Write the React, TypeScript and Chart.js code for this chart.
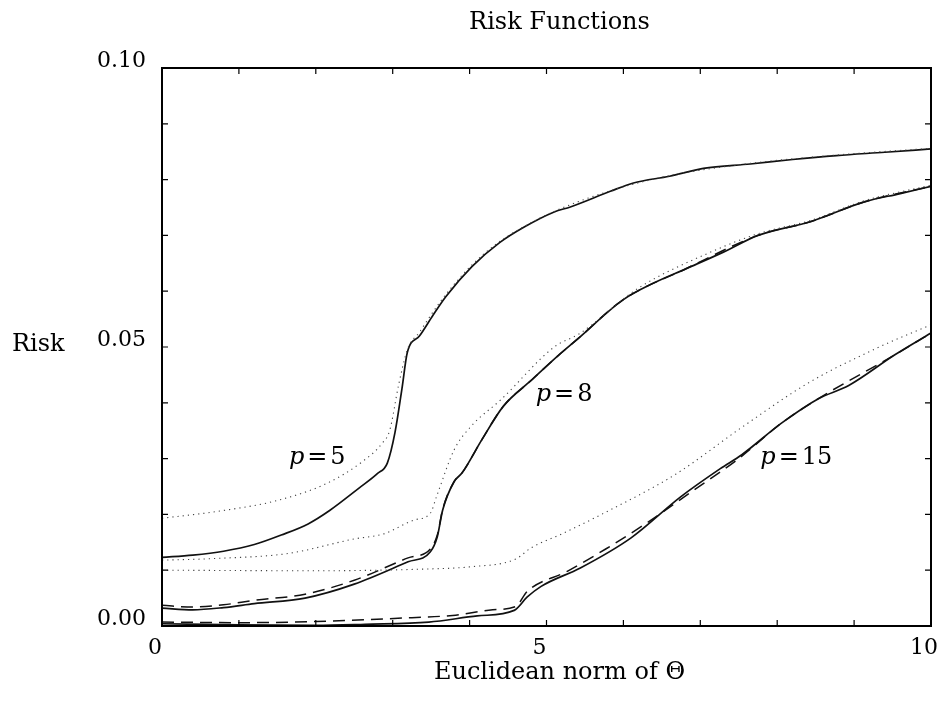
import React, { useEffect, useRef } from 'react';
import { Chart, registerables } from 'chart.js';

Chart.register(...registerables);

const FONT = '"DejaVu Serif", "Liberation Serif", serif';

// ---- data ----
const p5SolidX = [0, 0.4, 0.8, 1.2, 1.55, 1.9, 2.18, 2.57, 2.8, 2.93, 3.03, 3.12, 3.19, 3.35, 3.52, 3.69, 4.03, 4.39, 4.71, 5.1, 5.31, 5.83, 6.13, 6.6, 7.04, 7.65, 8.2, 8.77, 9.4, 10];
const p5SolidY = [0.0123, 0.0127, 0.0134, 0.0146, 0.0163, 0.0183, 0.0207, 0.0248, 0.0273, 0.0292, 0.0347, 0.0425, 0.049, 0.052, 0.0556, 0.059, 0.0644, 0.0687, 0.0715, 0.0742, 0.0751, 0.0779, 0.0794, 0.0806, 0.082, 0.0828, 0.0836, 0.0843, 0.0849, 0.0855];

const p5DottedX = [0, 0.75, 1.5, 2.15, 2.6, 2.86, 2.96, 3.08, 3.19, 3.35, 3.52, 3.69, 4.03, 4.39, 4.71, 5.1, 5.83, 6.6, 7.65, 8.77, 10];
const p5DottedY = [0.0193, 0.0206, 0.0225, 0.0256, 0.0294, 0.0327, 0.035, 0.0434, 0.0495, 0.0527, 0.0562, 0.0594, 0.0647, 0.0689, 0.0716, 0.0743, 0.078, 0.0807, 0.0829, 0.0844, 0.0856];

const p8SolidX = [0, 0.4, 0.8, 1.2, 1.86, 2.5, 3.2, 3.49, 3.58, 3.65, 3.8, 3.9, 4.16, 4.44, 4.8, 5.18, 5.41, 5.99, 6.4, 6.81, 7.3, 7.75, 8.44, 9.13, 9.6, 10];
const p8SolidY = [0.0032, 0.0029, 0.0033, 0.004, 0.005, 0.0075, 0.0115, 0.0133, 0.016, 0.0208, 0.0259, 0.0274, 0.0334, 0.0394, 0.044, 0.0488, 0.0515, 0.0584, 0.0615, 0.064, 0.067, 0.07, 0.0725, 0.076, 0.0775, 0.0788];

const p8DottedX = [0, 0.7, 1.64, 2.5, 2.88, 3.28, 3.49, 3.57, 3.8, 4.02, 4.41, 5.1, 5.43, 6.2, 7.1, 7.75, 8.44, 9.13, 10];
const p8DottedY = [0.0118, 0.0121, 0.013, 0.0156, 0.0165, 0.019, 0.0202, 0.0232, 0.0316, 0.0358, 0.0406, 0.05, 0.0524, 0.0606, 0.0668, 0.0703, 0.0727, 0.0762, 0.079];

const p8DashedX = [0, 0.4, 0.8, 1.2, 1.86, 2.5, 3.2, 3.49, 3.58, 3.65, 3.8, 3.9, 4.16, 4.44, 4.8, 5.18, 5.41, 5.99, 6.81, 7.75, 8.44, 9.13, 10];
const p8DashedY = [0.0037, 0.0034, 0.0038, 0.0046, 0.0057, 0.0082, 0.0122, 0.0138, 0.0163, 0.0209, 0.0259, 0.0274, 0.0334, 0.0394, 0.044, 0.0488, 0.0515, 0.0584, 0.064, 0.07, 0.0725, 0.076, 0.0788];

const p15SolidX = [0, 1, 2, 2.64, 3.47, 4.1, 4.58, 4.75, 4.93, 5.44, 6.1, 6.74, 7.26, 7.54, 8.06, 8.53, 8.93, 9.53, 10];
const p15SolidY = [0.0004, 0.0002, 0.0001, 0.0003, 0.0007, 0.0018, 0.0028, 0.0052, 0.0071, 0.0104, 0.0158, 0.0231, 0.0282, 0.0307, 0.0364, 0.0407, 0.0431, 0.0486, 0.0525];

const p15DottedX = [0, 2, 3.4, 4.0, 4.6, 4.8, 5.2, 5.8, 6.68, 7.55, 8.41, 9.28, 10];
const p15DottedY = [0.01, 0.0099, 0.0102, 0.0106, 0.012, 0.014, 0.0165, 0.0206, 0.0272, 0.0357, 0.0436, 0.0497, 0.054];

const p15DashedX = [0, 1, 2, 3.25, 3.78, 4.3, 4.6, 4.75, 5.27, 5.77, 6.34, 6.86, 7.5, 8.06, 8.53, 9.53, 10];
const p15DashedY = [0.0007, 0.0006, 0.0008, 0.0015, 0.0019, 0.0029, 0.0035, 0.0062, 0.0098, 0.0138, 0.0188, 0.0238, 0.03, 0.0364, 0.0407, 0.0486, 0.0525];

const xLabelTicks = [0, 5, 10];
const yLabelTicks = [0, 0.05, 0.1];
const xMinorTicks = [1, 2, 3, 4, 5, 6, 7, 8, 9];
const yMinorTicks = [0.01, 0.02, 0.03, 0.04, 0.05, 0.06, 0.07, 0.08, 0.09];

const chartTitle = 'Risk Functions';
const xTitle = 'Euclidean norm of Θ';
const yTitle = 'Risk';

const curveLabels = [
  { n: '5', x: 1.65, y: 0.0301 },
  { n: '8', x: 4.86, y: 0.0414 },
  { n: '15', x: 7.78, y: 0.0301 },
];

const pts = (xs: number[], ys: number[]) => xs.map((x, i) => ({ x, y: ys[i] }));

const framePlugin = {
  id: 'frameAndLabels',
  afterDatasetsDraw(chart: any) {
    const { ctx, chartArea: a, scales } = chart;
    const xs = scales.x;
    const ys = scales.y;
    ctx.save();
    ctx.strokeStyle = '#000';
    ctx.lineWidth = 2;
    ctx.strokeRect(a.left, a.top, a.right - a.left, a.bottom - a.top);
    ctx.lineWidth = 1.2;
    ctx.beginPath();
    const tl = 6;
    for (const v of xMinorTicks) {
      const px = xs.getPixelForValue(v);
      ctx.moveTo(px, a.bottom);
      ctx.lineTo(px, a.bottom - tl);
      ctx.moveTo(px, a.top);
      ctx.lineTo(px, a.top + tl);
    }
    for (const v of yMinorTicks) {
      const py = ys.getPixelForValue(v);
      ctx.moveTo(a.left, py);
      ctx.lineTo(a.left + tl, py);
      ctx.moveTo(a.right, py);
      ctx.lineTo(a.right - tl, py);
    }
    ctx.stroke();

    ctx.fillStyle = '#000';
    ctx.textBaseline = 'middle';
    ctx.font = `24px ${FONT}`;
    const cx = (a.left + a.right) / 2 + 13;
    ctx.textAlign = 'center';
    ctx.fillText(chartTitle, cx, 23);
    ctx.fillText(xTitle, cx, 673);
    ctx.textAlign = 'left';
    ctx.fillText(yTitle, 12, ys.getPixelForValue(0.05) - 2);

    for (const lab of curveLabels) {
      let px = xs.getPixelForValue(lab.x);
      const py = ys.getPixelForValue(lab.y);
      ctx.font = `italic 24px ${FONT}`;
      ctx.fillText('p', px, py);
      px += ctx.measureText('p').width + 3;
      ctx.font = `24px ${FONT}`;
      ctx.fillText('=', px, py);
      px += ctx.measureText('=').width + 3;
      ctx.fillText(lab.n, px, py);
    }
    ctx.restore();
  },
};

export default function App() {
  const ref = useRef<HTMLCanvasElement | null>(null);

  useEffect(() => {
    document.body.style.margin = '0';
    const canvas = ref.current;
    if (!canvas) return;

    const solid = { borderColor: '#111', borderWidth: 1.7, borderDash: [] as number[] };
    const dotted = { borderColor: '#444', borderWidth: 1.1, borderDash: [1.2, 4] };
    const dashed = { borderColor: '#111', borderWidth: 1.5, borderDash: [12, 7] };

    const mk = (label: string, xs: number[], ys: number[], style: any) => ({
      label,
      data: pts(xs, ys),
      ...style,
      pointRadius: 0,
      fill: false,
      cubicInterpolationMode: 'monotone',
    });

    const chart = new Chart(canvas, {
      type: 'line',
      data: {
        datasets: [
          mk('p=5 dotted', p5DottedX, p5DottedY, dotted),
          mk('p=8 dotted', p8DottedX, p8DottedY, dotted),
          mk('p=15 dotted', p15DottedX, p15DottedY, dotted),
          mk('p=8 dashed', p8DashedX, p8DashedY, dashed),
          mk('p=15 dashed', p15DashedX, p15DashedY, dashed),
          mk('p=5', p5SolidX, p5SolidY, solid),
          mk('p=8', p8SolidX, p8SolidY, solid),
          mk('p=15', p15SolidX, p15SolidY, solid),
        ],
      },
      options: {
        animation: false,
        responsive: true,
        maintainAspectRatio: false,
        layout: { padding: { left: 0, right: 15, top: 0, bottom: 0 } },
        plugins: {
          legend: { display: false },
          tooltip: { enabled: false },
          title: { display: false },
        },
        scales: {
          x: {
            type: 'linear',
            position: 'bottom',
            min: 0,
            max: 10,
            grid: { display: false, drawTicks: false },
            border: { display: false },
            afterBuildTicks: (s: any) => { s.ticks = xLabelTicks.map((v) => ({ value: v })); },
            ticks: {
              color: '#000',
              font: { family: FONT, size: 22 },
              padding: 9,
              labelOffset: -7,
              autoSkip: false,
              maxRotation: 0,
              callback: (v: any) => String(v),
            },
            afterFit: (s: any) => { s.height = 75; s.paddingLeft = 0; s.paddingRight = 0; },
          },
          xTop: {
            type: 'linear',
            position: 'top',
            min: 0,
            max: 10,
            grid: { display: false, drawTicks: false },
            border: { display: false },
            ticks: { display: false },
            afterFit: (s: any) => { s.height = 68; s.paddingLeft = 0; s.paddingRight = 0; },
          },
          y: {
            type: 'linear',
            position: 'left',
            min: 0,
            max: 0.1,
            grid: { display: false, drawTicks: false },
            border: { display: false },
            afterBuildTicks: (s: any) => { s.ticks = yLabelTicks.map((v) => ({ value: v })); },
            ticks: {
              color: '#000',
              font: { family: FONT, size: 22 },
              padding: 16,
              labelOffset: -7,
              autoSkip: false,
              callback: (v: any) => Number(v).toFixed(2),
            },
            afterFit: (s: any) => { s.width = 162; s.paddingTop = 0; s.paddingBottom = 0; },
          },
        },
      },
      plugins: [framePlugin],
    });

    return () => chart.destroy();
  }, []);

  return (
    <div style={{ width: '946px', height: '701px', position: 'relative', overflow: 'hidden', background: '#fff' }}>
      <canvas ref={ref} />
    </div>
  );
}
